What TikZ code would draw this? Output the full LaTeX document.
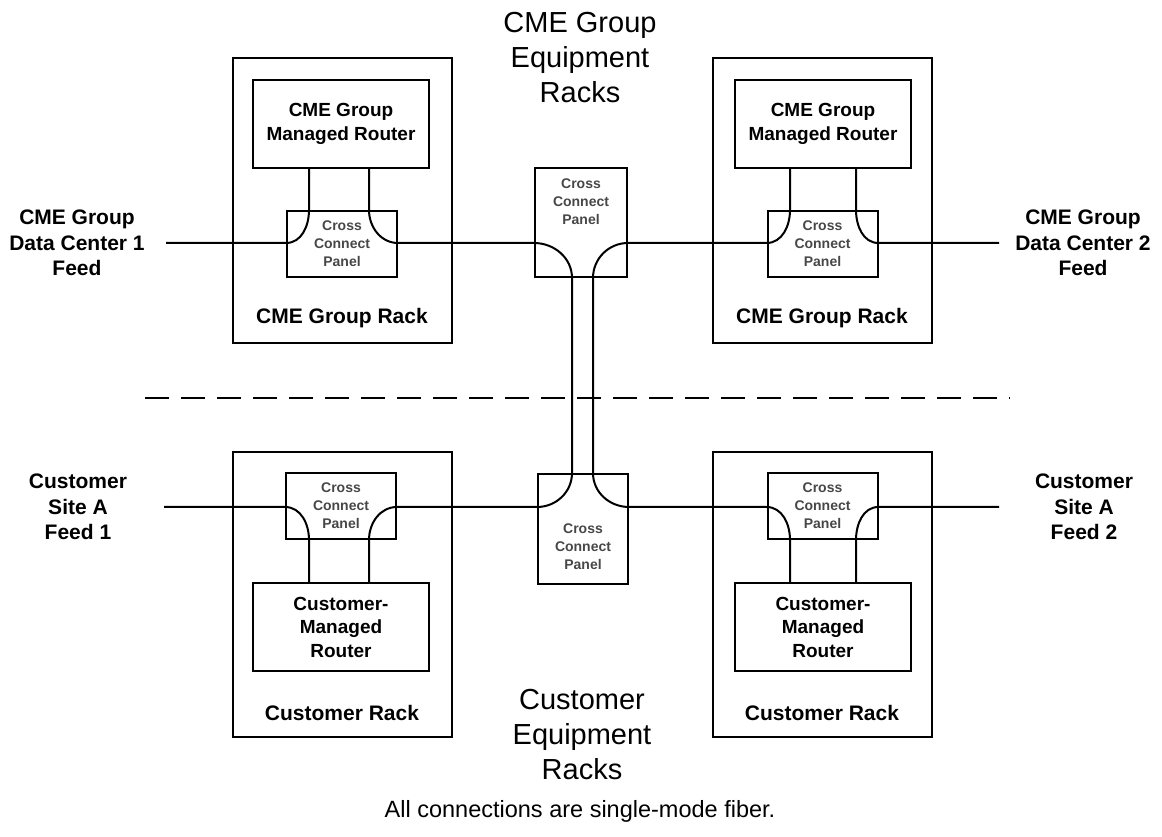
\documentclass[tikz,border=0pt]{standalone}
\usepackage{fontspec}
\setmainfont{Liberation Sans}
\usetikzlibrary{calc}

\begin{document}
\begin{tikzpicture}[x=1pt,y=1pt,
  rack/.style={draw,line width=2pt,minimum width=219pt,minimum height=285pt,inner sep=0pt},
  router/.style={draw,line width=2pt,minimum width=176pt,minimum height=88pt,align=center,
    font=\fontsize{19}{23.5}\selectfont\bfseries},
  panel/.style={draw,line width=2pt,minimum width=110pt,minimum height=66pt,inner sep=0pt,
    align=center,text=black!72,font=\fontsize{14}{18}\selectfont\bfseries},
  paneltext/.style={align=center,text=black!72,font=\fontsize{14}{18}\selectfont\bfseries},
  racklabel/.style={font=\fontsize{21}{25}\selectfont\bfseries},
  feedlabel/.style={align=center,font=\fontsize{21}{25.5}\selectfont\bfseries},
  title/.style={align=center,font=\fontsize{29}{35}\selectfont},
  note/.style={font=\fontsize{23.5}{27}\selectfont},
  fiber/.style={line width=2pt},
  separator/.style={line width=2pt,dash pattern=on 24pt off 12pt}]
\useasboundingbox (0,0) rectangle (1162,836);

% racks
\node[rack] (rackTL) at (342.5,635.5) {};
\node[rack] (rackTR) at (822.5,635.5) {};
\node[rack] (rackBL) at (342.5,241.5) {};
\node[rack] (rackBR) at (822.5,241.5) {};
\node[racklabel] (lblTL) at (342,518) {CME Group Rack};
\node[racklabel] (lblTR) at (822,518) {CME Group Rack};
\node[racklabel] (lblBL) at (342,123) {Customer Rack};
\node[racklabel] (lblBR) at (822,123) {Customer Rack};

% routers
\node[router] (rtTL) at (341,712) {CME Group\\Managed Router};
\node[router] (rtTR) at (823,712) {CME Group\\Managed Router};
\node[router] (rtBL) at (341,209) {Customer-\\Managed\\Router};
\node[router] (rtBR) at (823,209) {Customer-\\Managed\\Router};

% cross connect panels
\node[panel] (ccTL) at (342,592) {Cross\\Connect\\Panel};
\node[panel] (ccTR) at (822.5,592) {Cross\\Connect\\Panel};
\node[panel] (ccBL) at (341,330) {Cross\\Connect\\Panel};
\node[panel] (ccBR) at (822.5,330) {Cross\\Connect\\Panel};
\node[panel,minimum width=92pt,minimum height=109pt] (ccTop) at (581,613.5) {};
\node[paneltext] (ccTopTxt) at (581,634) {Cross\\Connect\\Panel};
\node[panel,minimum width=90pt,minimum height=110pt] (ccBot) at (583,307) {};
\node[paneltext] (ccBotTxt) at (583,289) {Cross\\Connect\\Panel};

% feeds
\node[feedlabel] (lblDC1) at (77,593) {CME Group\\Data Center 1\\Feed};
\node[feedlabel] (lblDC2) at (1083,593) {CME Group\\Data Center 2\\Feed};
\node[feedlabel] (lblSA1) at (78,329) {Customer\\Site A\\Feed 1};
\node[feedlabel] (lblSA2) at (1084,329) {Customer\\Site A\\Feed 2};
\coordinate (dc1) at (166,593);
\coordinate (dc2) at (999,593);
\coordinate (sa1) at (164,329);
\coordinate (sa2) at (999,329);

% router ports
\coordinate (tl1) at (309,668);
\coordinate (tl2) at (369,668);
\coordinate (tr1) at (790,668);
\coordinate (tr2) at (856,668);
\coordinate (bl1) at (309,253);
\coordinate (bl2) at (369,253);
\coordinate (br1) at (790,253);
\coordinate (br2) at (856,253);
\coordinate (lnkL) at (572,450);
\coordinate (lnkR) at (593,450);

% fiber runs
\draw[fiber] (dc1) -- (ccTL.west |- dc1) to[out=0,in=-90] (ccTL.north -| tl1) -- (tl1);
\draw[fiber] (tl2) -- (ccTL.north -| tl2) to[out=-90,in=180] (ccTL.east |- dc1)
  -- (ccTop.west |- dc1) to[out=0,in=90] (ccTop.south -| lnkL)
  -- (ccBot.north -| lnkL) to[out=-90,in=0] (ccBot.west |- sa1)
  -- (ccBL.east |- sa1) to[out=180,in=90] (ccBL.south -| bl2) -- (bl2);
\draw[fiber] (sa1) -- (ccBL.west |- sa1) to[out=0,in=90] (ccBL.south -| bl1) -- (bl1);
\draw[fiber] (tr1) -- (ccTR.north -| tr1) to[out=-90,in=0] (ccTR.west |- dc2)
  -- (ccTop.east |- dc2) to[out=180,in=90] (ccTop.south -| lnkR)
  -- (ccBot.north -| lnkR) to[out=-90,in=180] (ccBot.east |- sa2)
  -- (ccBR.west |- sa2) to[out=0,in=90] (ccBR.south -| br1) -- (br1);
\draw[fiber] (tr2) -- (ccTR.north -| tr2) to[out=-90,in=180] (ccTR.east |- dc2) -- (dc2);
\draw[fiber] (sa2) -- (ccBR.east |- sa2) to[out=180,in=90] (ccBR.south -| br2) -- (br2);

% separator and titles
\coordinate (sepL) at (145,438);
\coordinate (sepR) at (1010,438);
\draw[separator] (sepL) -- (sepR);
\node[title] (cmeTitle) at (580,778) {CME Group\\Equipment\\Racks};
\node[title] (custTitle) at (582,101) {Customer\\Equipment\\Racks};
\node[note] (footnote) at (580,25) {All connections are single-mode fiber.};
\end{tikzpicture}
\end{document}
